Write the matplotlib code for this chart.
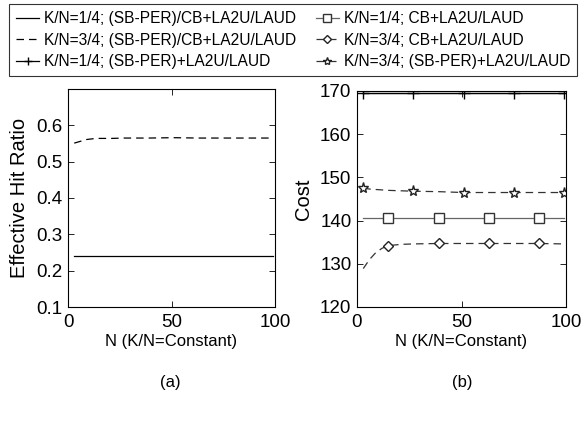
import matplotlib
matplotlib.use('Agg')
import matplotlib.pyplot as plt
from matplotlib import rcParams

rcParams['font.family'] = 'Liberation Sans'
rcParams['font.size'] = 12

# N values (K/N constant)
n_vals = [3, 6, 9, 12, 15, 21, 27, 39, 51, 63, 75, 87, 99]

# (a) effective hit ratio
hit_q1_sbper_cb = [0.24, 0.24, 0.24, 0.24, 0.24, 0.24, 0.24, 0.24, 0.24, 0.24, 0.24, 0.24, 0.24]
hit_q3_sbper_cb = [0.551, 0.556, 0.561, 0.563, 0.564, 0.564, 0.565, 0.565, 0.566, 0.565, 0.565, 0.565, 0.565]

# (b) cost
cost_q1_sbper = [169.5, 169.5, 169.5, 169.5, 169.5, 169.5, 169.5, 169.5, 169.5, 169.5, 169.5, 169.5, 169.5]
cost_q3_sbper = [147.5, 147.3, 147.2, 147.1, 147.0, 146.9, 146.8, 146.7, 146.5, 146.5, 146.5, 146.5, 146.5]
cost_q1_cb = [140.5, 140.5, 140.5, 140.5, 140.5, 140.5, 140.5, 140.5, 140.5, 140.5, 140.5, 140.5, 140.5]
cost_q3_cb = [128.9, 131.0, 132.6, 133.6, 134.2, 134.5, 134.6, 134.7, 134.7, 134.7, 134.7, 134.7, 134.6]

labels = ['K/N=1/4; (SB-PER)/CB+LA2U/LAUD',
          'K/N=3/4; (SB-PER)/CB+LA2U/LAUD',
          'K/N=1/4; (SB-PER)+LA2U/LAUD',
          'K/N=1/4; CB+LA2U/LAUD',
          'K/N=3/4; CB+LA2U/LAUD',
          'K/N=3/4; (SB-PER)+LA2U/LAUD']

fig = plt.figure(figsize=(5.82, 4.30), dpi=100)
ax1 = fig.add_axes([68 / 582, 1 - 307 / 430, 207 / 582, 218 / 430])
ax2 = fig.add_axes([357 / 582, 1 - 307 / 430, 209 / 582, 216 / 430])

# markers every 24 in N
idx_a = [0, 6, 8, 10, 12]
idx_b = [4, 7, 9, 11]

h1, = ax1.plot(n_vals, hit_q1_sbper_cb, '-', color='black', lw=0.9)
h2, = ax1.plot(n_vals, hit_q3_sbper_cb, '--', color='black', lw=0.9, dashes=(6, 4))
ax1.set_xlim(0, 100)
ax1.set_ylim(0.1, 0.7)
ax1.set_yticks([0.1, 0.2, 0.3, 0.4, 0.5, 0.6])
ax1.set_xticks([0, 50, 100])
ax1.set_ylabel('Effective Hit Ratio', fontsize=14.5, labelpad=5)
ax1.set_xlabel('N (K/N=Constant)', fontsize=12, labelpad=2)

ax2.plot(n_vals, cost_q1_sbper, '-', color='black', lw=0.9)
h3, = ax2.plot(n_vals, cost_q1_sbper, '-', color='black', lw=0.9, marker='+', ms=8, markevery=idx_a)
h4, = ax2.plot(n_vals, cost_q1_cb, '-', color='#666666', lw=0.9, marker='s', ms=7,
               mfc='white', mec='#333333', markevery=idx_b)
h5, = ax2.plot(n_vals, cost_q3_cb, '--', color='#333333', lw=0.9, dashes=(6, 4), marker='D', ms=5.5,
               mfc='white', mec='#222222', markevery=idx_b)
h6, = ax2.plot(n_vals, cost_q3_sbper, '--', color='#333333', lw=0.9, dashes=(6, 4), marker='*', ms=8,
               mfc='white', mec='#222222', markevery=idx_a)
ax2.set_xlim(0, 100)
ax2.set_ylim(120, 170)
ax2.set_yticks([120, 130, 140, 150, 160, 170])
ax2.set_xticks([0, 50, 100])
ax2.set_ylabel('Cost', fontsize=14.5, labelpad=5)
ax2.set_xlabel('N (K/N=Constant)', fontsize=12, labelpad=2)

for ax in (ax1, ax2):
    ax.tick_params(direction='in', length=4, width=0.6, labelsize=13.5, top=True, right=True,
                   labeltop=False, labelright=False)
    ax.tick_params(axis='x', pad=5)
    ax.tick_params(axis='y', pad=4)
    for sp in ax.spines.values():
        sp.set_linewidth(0.8)

fig.text(170 / 582, 1 - 383 / 430, '(a)', ha='center', va='center', fontsize=12)
fig.text(462 / 582, 1 - 383 / 430, '(b)', ha='center', va='center', fontsize=12)

leg = fig.legend([h1, h2, h3, h4, h5, h6], labels, ncol=2, loc='upper left', mode='expand',
                 bbox_to_anchor=(9 / 582, 1 - 70 / 430, 568 / 582, 66 / 430), fontsize=11.2,
                 frameon=True, fancybox=False, edgecolor='black', handlelength=1.5,
                 handletextpad=0.3, labelspacing=0.42, borderpad=0.45, numpoints=1,
                 markerscale=0.75, borderaxespad=0)
leg.get_frame().set_linewidth(0.8)

fig.savefig('out.png', dpi=100)
